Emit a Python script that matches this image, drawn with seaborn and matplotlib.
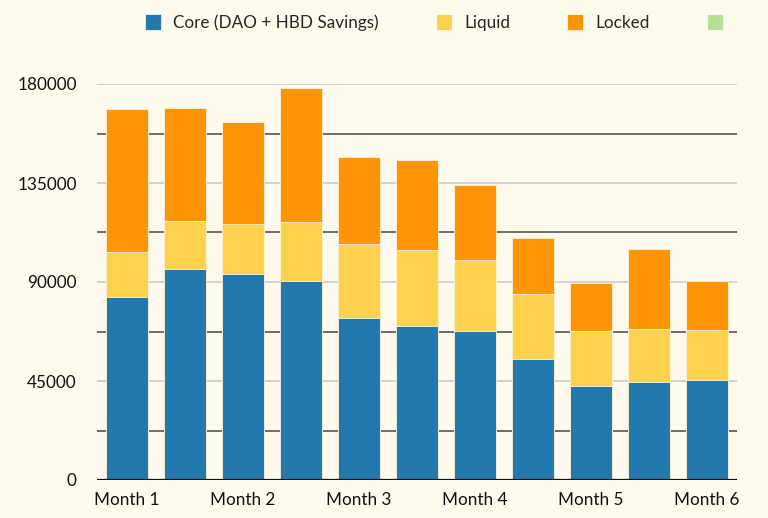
import matplotlib
matplotlib.use("Agg")
import matplotlib.pyplot as plt
import seaborn as sns
import pandas as pd
import numpy as np
from matplotlib.patches import Patch
from matplotlib.ticker import MultipleLocator

bars = [f"b{i}" for i in range(11)]
tick_labels = ["Month 1", "", "Month 2", "", "Month 3", "", "Month 4", "", "Month 5", "", "Month 6"]
core = [83000, 95800, 93600, 90600, 73800, 70000, 67600, 54900, 42900, 44400, 45300]
liquid = [20600, 22100, 22600, 26500, 33300, 34400, 32400, 29600, 24800, 24100, 23000]
locked = [65000, 51100, 46700, 60900, 39900, 41100, 34100, 25400, 22000, 36500, 22300]
series = ["Core (DAO + HBD Savings)", "Liquid", "Locked", ""]
colors = ["#2378ae", "#fed24f", "#fe9406", "#b5e095"]
bg = "#fefbee"

sns.set_theme(style="white")
plt.rcParams["font.family"] = ["Lato", "DejaVu Sans"]

df = pd.DataFrame({"bar": bars, "core": core, "liquid": liquid, "locked": locked})
df["cum_liquid"] = df["core"] + df["liquid"]
df["total"] = df["cum_liquid"] + df["locked"]

fig = plt.figure(figsize=(7.68, 5.18), dpi=100, facecolor=bg)
ax = fig.add_axes([97/768, (518-480)/518, (737-97)/768, (480-84)/518])
ax.set_facecolor(bg)

for col, c in [("total", colors[2]), ("cum_liquid", colors[1]), ("core", colors[0])]:
    sns.barplot(data=df, x="bar", y=col, order=bars, color=c, width=0.72,
                saturation=1, ax=ax, edgecolor="#fff3d8", linewidth=0.6, zorder=3)

ax.set_ylim(0, 180000)
ax.set_xlim(-0.52, 10.52)
ax.yaxis.set_major_locator(MultipleLocator(45000))
ax.yaxis.set_minor_locator(MultipleLocator(22500))
ax.grid(False)
ax.set_axisbelow(True)
for v in np.arange(45000, 180001, 45000):
    ax.axhline(v, color="#cfcfcc", lw=1.3, zorder=1)
for v in np.arange(22500, 180000, 45000):
    ax.axhline(v, color="#555555", lw=1.2, zorder=1)
ax.axhline(0, color="#111111", lw=1.6, zorder=4)

ax.set_xticks(range(len(bars)))
ax.set_xticklabels(tick_labels)
ax.set_xlabel("")
ax.set_ylabel("")
ax.tick_params(axis="both", length=0, labelsize=12.3, colors="#111111")
ax.tick_params(axis="y", pad=14.5)
ax.tick_params(axis="x", pad=8.5)
ax.tick_params(axis="y", which="minor", length=0)
ax.set_yticklabels([f"{int(v)}" for v in ax.get_yticks()])
for s in ax.spines.values():
    s.set_visible(False)

handles = [Patch(facecolor=c, edgecolor="#ffffff", linewidth=0.5) for c in colors]
fig.legend(handles, series, loc="center", bbox_to_anchor=(0.573, 0.956), ncol=4,
           frameon=False, fontsize=12.3, handlelength=0.94, handleheight=1.05,
           handletextpad=0.7, columnspacing=3.35)

fig.savefig("out.png", dpi=100, facecolor=bg)
